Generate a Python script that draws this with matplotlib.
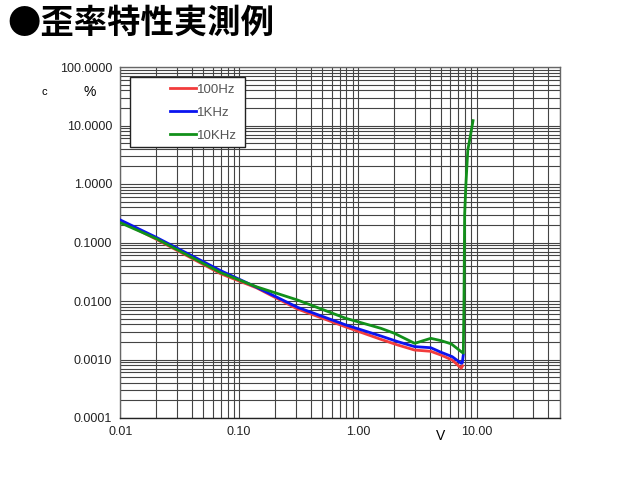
import matplotlib
matplotlib.use("Agg")
import matplotlib.pyplot as plt
from matplotlib.patches import Rectangle
from matplotlib.ticker import FixedLocator, FixedFormatter, LogLocator, NullFormatter

plt.rcParams['font.family'] = ['Liberation Sans', 'Noto Sans CJK JP', 'DejaVu Sans']

# distortion data (x: output voltage V, y: THD %)
x_100hz = [0.01, 0.02, 0.07, 0.14, 0.31, 0.79, 1.56, 2.16, 3.0, 4.1, 5.0, 6.2, 7.4, 7.6]
y_100hz = [0.235, 0.114, 0.0292, 0.0168, 0.0073, 0.0036, 0.00221, 0.00177, 0.00145,
           0.00138, 0.00119, 0.00098, 0.00071, 0.00078]

x_1khz = [0.01, 0.02, 0.07, 0.14, 0.31, 0.79, 1.56, 2.16, 3.0, 4.1, 5.0, 6.2, 7.4, 7.55, 7.7]
y_1khz = [0.243, 0.123, 0.033, 0.0172, 0.0078, 0.0039, 0.00252, 0.00202, 0.00166,
          0.00159, 0.00133, 0.00112, 0.00086, 0.00088, 0.0012]

x_10khz = [0.01, 0.02, 0.07, 0.14, 0.31, 0.79, 1.56, 2.02, 3.0, 4.1, 5.0, 6.1, 7.4,
           7.7, 7.8, 7.9, 8.1, 8.4, 8.8, 9.3]
y_10khz = [0.218, 0.117, 0.0305, 0.0175, 0.0104, 0.00506, 0.00341, 0.00281, 0.00189,
           0.0023, 0.0021, 0.00185, 0.00136, 0.00128, 0.01, 0.3, 1.0, 3.8, 6.4, 12.1]

series_labels = ['100Hz', '1KHz', '10KHz']
series_colors = ['#f23c3c', '#0a14f0', '#12901a']

x_ticks = [0.01, 0.1, 1, 10]
x_ticklabels = ['0.01', '0.10', '1.00', '10.00']
y_ticks = [0.0001, 0.001, 0.01, 0.1, 1, 10, 100]
y_ticklabels = ['0.0001', '0.0010', '0.0100', '0.1000', '1.0000', '10.0000', '100.0000']

fig = plt.figure(figsize=(6.2, 5.0), dpi=100)
ax = fig.add_axes([0.194, 0.164, 0.709, 0.702])
ax.set_xscale('log')
ax.set_yscale('log')
ax.set_xlim(0.01, 50)
ax.set_ylim(0.0001, 100)

ax.xaxis.set_major_locator(FixedLocator(x_ticks))
ax.xaxis.set_major_formatter(FixedFormatter(x_ticklabels))
ax.yaxis.set_major_locator(FixedLocator(y_ticks))
ax.yaxis.set_major_formatter(FixedFormatter(y_ticklabels))
ax.xaxis.set_minor_locator(LogLocator(base=10, subs=range(2, 10), numticks=20))
ax.yaxis.set_minor_locator(LogLocator(base=10, subs=range(2, 10), numticks=20))
ax.xaxis.set_minor_formatter(NullFormatter())
ax.yaxis.set_minor_formatter(NullFormatter())
ax.tick_params(which='both', length=0, labelsize=9, colors='#222222', pad=6)

ax.grid(True, which='both', color='#444444', lw=0.8)
for s in ax.spines.values():
    s.set_color('#666666')
    s.set_linewidth(1.0)
ax.spines['bottom'].set_color('#222222')

ax.plot(x_100hz, y_100hz, color=series_colors[0], lw=2.0, label=series_labels[0], zorder=3)
ax.plot(x_1khz, y_1khz, color=series_colors[1], lw=2.0, label=series_labels[1], zorder=4)
ax.plot(x_10khz, y_10khz, color=series_colors[2], lw=2.0, label=series_labels[2], zorder=5)

# legend box drawn over the grid
ax.add_patch(Rectangle((0.0216, 0.772), 0.262, 0.20, transform=ax.transAxes,
                       facecolor='white', edgecolor='#222222', lw=1.0, zorder=6))
leg = ax.legend(loc='upper left', bbox_to_anchor=(0.088, 0.982), frameon=False,
                fontsize=9.5, handlelength=2.0, handletextpad=0.1, labelspacing=0.8,
                borderpad=0.3)
leg.set_zorder(7)
for t in leg.get_texts():
    t.set_color('#555555')

fig.text(0.012, 0.953, '●歪率特性実測例', fontsize=24, fontweight='bold',
         family=['Noto Sans CJK JP', 'DejaVu Sans'], va='center', ha='left')
fig.text(0.145, 0.816, '%', fontsize=10, ha='center', va='center')
fig.text(0.071, 0.816, 'c', fontsize=8, ha='center', va='center')
fig.text(0.710, 0.128, 'V', fontsize=10, ha='center', va='center')

fig.savefig('out.png', dpi=100)
